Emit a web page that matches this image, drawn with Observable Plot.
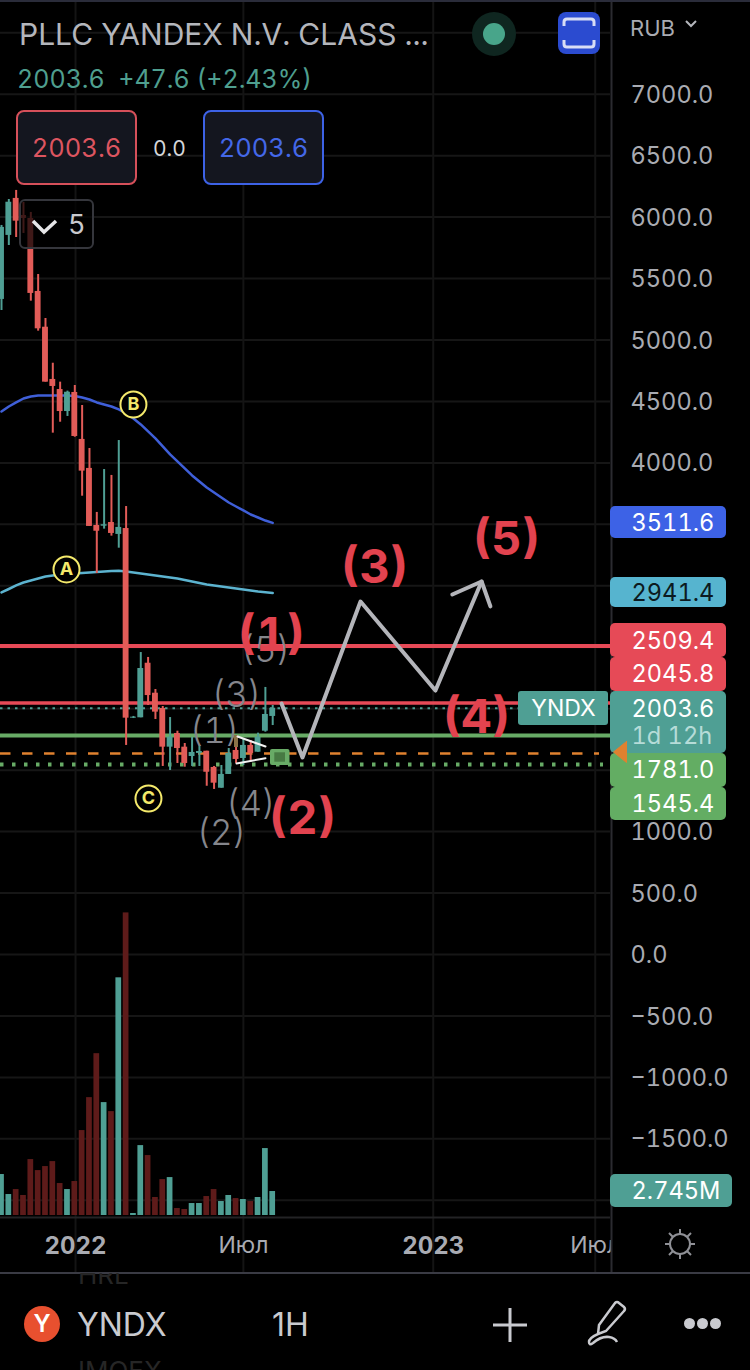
<!DOCTYPE html>
<html><head><meta charset="utf-8">
<script src="https://cdn.jsdelivr.net/npm/d3@7"></script>
<script src="https://cdn.jsdelivr.net/npm/@observablehq/plot@0.6"></script>
<style>
html,body{margin:0;padding:0;background:#000;}
#page{position:relative;width:750px;height:1370px;overflow:hidden;background:#000;font-family:Inter,"Noto Sans",sans-serif;font-variant-numeric:tabular-nums;}
#page svg.plot{display:block;position:absolute;left:0;top:0;font-variant-numeric:tabular-nums;}
.o{position:absolute;white-space:nowrap;line-height:1;}
.btn{position:absolute;box-sizing:border-box;border-radius:8px;background:#14161f;border:2px solid;display:flex;align-items:center;justify-content:center;font-size:25.5px;}
</style></head><body><div id="page"></div>
<script>
// ---- data ----
const opens  = [5330,5851,6152,6013,5989,5395,5104,4679,4597,4418,4573,4191,3955,3491,3485,3515,3418,3466,1923,1926,2370,2126,2002,1687,1798,1687,1611,1636,1654,1522,1353,1465,1660,1595,1701,1646,1817,1937];
const highs  = [5932,6143,6217,6119,6038,5533,5175,4811,4657,4584,4630,4467,4117,3597,3946,3898,4182,3645,1937,2457,2417,2156,2018,1928,1817,1717,1766,1701,1654,1530,1538,1676,1782,1749,1741,1801,2173,2026];
const lows   = [5240,5769,5834,5867,5316,5072,4657,4242,4331,4378,4209,3729,3483,3100,3461,3404,3306,1701,1920,1926,2026,1912,1530,1497,1554,1524,1530,1530,1369,1343,1353,1465,1554,1538,1565,1646,1809,1863];
const closes = [5916,6121,5967,5989,5379,5091,4657,4622,4418,4575,4215,3933,3483,3444,3497,3426,3475,1923,1931,2327,2107,1972,1687,1768,1676,1554,1644,1652,1483,1394,1465,1636,1587,1701,1636,1768,1953,2003.6];
const volumes = [4.69,2.40,2.97,2.29,6.40,5.14,5.60,6.17,3.66,2.97,3.89,9.72,13.49,18.52,12.92,11.89,27.2,34.63,0.23,8.0,6.86,2.06,4.11,4.34,0.80,0.69,1.37,1.37,2.17,2.97,1.60,2.29,1.94,1.83,1.60,2.06,7.66,2.745];
const maSlow = [4418,4459,4492,4524,4540,4549,4549,4549,4549,4549,4545,4532,4516,4492,4475,4459,4435,4402,4361,4313,4256,4199,4134,4069,4012,3955,3898,3849,3800,3759,3719,3678,3645,3613,3580,3556,3531,3511.6];
const maLong = [2946,2974,3003,3027,3043,3059,3076,3084,3092,3096,3100,3104,3108,3112,3116,3121,3122,3116,3108,3100,3092,3084,3076,3068,3059,3047,3035,3023,3011,3003,2994,2986,2978,2970,2962,2954,2948,2941.4];
const priceTicks = [7000,6500,6000,5500,5000,4500,4000,1000,500,0,-500,-1000,-1500];
const gridPrices = [7500,7000,6500,6000,5500,5000,4500,4000,3500,3000,2500,2000,1500,1000,500,0,-500,-1000,-1500,-2000];
const monthBars = [33,81];
const monthNames = ["Июл","Июл"];
const yearBars = [10.1,58.9];
const yearNames = ["2022","2023"];
const resistance = [2509.4,2045.8];
const support = 1781.0;
const supportDotted = 1545.4;
const orangeLevel = 1636;
const lastPrice = 2003.6;
const pathBars = [38.2,41.06,48.98,59.2,65.5];
const pathPrices = [2042,1603,2872,2148,3035];
const headBars = [61.5,65.5,66.7];
const headPrices = [2929,3035,2832];
const redWaves = ["(1)","(2)","(3)","(4)","(5)"];
const redBars = [36.8,41.06,50.9,64.8,68.9];
const redPrices = [2612,1123,3165,1937,3393];
const grayWaves = ["(5)","(3)","(1)","(4)","(2)"];
const grayBars = [36,32.06,29.06,34,30];
const grayPrices = [2474,2107,1815,1221,985];
const abc = ["A","B","C"];
const abcBars = [8.87,18,20.05];
const abcPrices = [3133,4475,1269];

// ---- chart geometry ----
const xAt = p => (p - 1) / 7.33;
const yAt = p => (954 - p) / 0.1229;
const volBase = yAt(1215), volUnit = 71.1;
const bars = opens.map((o,i)=>({i,open:o,high:highs[i],low:lows[i],close:closes[i],vol:volumes[i],slow:maSlow[i],long:maLong[i]}));
const ups = bars.filter(d=>d.close>=d.open), downs = bars.filter(d=>d.close<d.open);
const UP="#4f9f94", DOWN="#e25c58", VUP="#4f9f94", VDOWN="#5e1b1a";
const RED="#e64a57", GREEN="#68ab66", TEXT="#a9abb2";
const fmt = d3.format(".1f");
const zip = (n,b,p)=>n.map((t,i)=>({t,b:b[i],p:p[i]}));

const candles = (rows,color)=>[
  Plot.ruleX(rows,{x:"i",y1:"low",y2:"high",stroke:color,strokeWidth:2}),
  Plot.rect(rows,{x1:d=>d.i-0.4,x2:d=>d.i+0.4,y1:"open",y2:"close",fill:color})
];
const volume = (rows,color)=>Plot.rect(rows,{x1:d=>d.i-0.39,x2:d=>d.i+0.39,y1:volBase,y2:d=>volBase+d.vol*volUnit,fill:color});
const level = (v,color,w,extra={})=>Plot.ruleY([v],{x1:xAt(0),x2:xAt(extra.to??610),stroke:color,strokeWidth:w,strokeDasharray:extra.dash});
const tag = (label,top,bottom,fill,color,right=726,rx=5,textY)=>[
   Plot.rect([label],{x1:xAt(610),x2:xAt(right),y1:yAt(top),y2:yAt(bottom),fill,rx}),
   Plot.text([label],{x:xAt(631),y:yAt(textY??(top+bottom)/2),text:d=>d,fill:color,fontSize:23.6,textAnchor:"start",lineAnchor:"middle"})
];

const chart = Plot.plot({
  width:750,height:1370,
  marginTop:0,marginLeft:0,marginRight:140,marginBottom:98,
  x:{type:"linear",domain:[xAt(0),xAt(610)],axis:null},
  y:{type:"linear",domain:[yAt(1272),yAt(0)],axis:null},
  style:{background:"#000",fontFamily:"Inter, 'Noto Sans', sans-serif",overflow:"hidden"},
  marks:[
    Plot.ruleY(gridPrices,{stroke:"#161616",strokeWidth:2}),
    Plot.ruleX(monthBars.concat(yearBars),{stroke:"#141414",strokeWidth:2}),
    Plot.ruleY([yAt(1217)],{stroke:"#232325",strokeWidth:2}),
    volume(ups,VUP),volume(downs,VDOWN),
    Plot.line(bars,{x:"i",y:"long",stroke:"#5cb3cf",strokeWidth:2.5}),
    Plot.line(bars,{x:"i",y:"slow",stroke:"#3f5fd8",strokeWidth:2.5}),
    level(resistance[0],RED,4),
    level(resistance[1],RED,3.5),
    level(lastPrice,"#4f9f94",2,{dash:"2.5 5",to:520}),
    level(support,GREEN,4),
    level(orangeLevel,"#e0812f",2.5,{dash:"10.5 11.5",to:599}),
    level(supportDotted,GREEN,4,{dash:"3.5 8.5",to:603}),
    ...candles(downs,DOWN),...candles(ups,UP),
    Plot.rect([0],{x1:xAt(234),x2:xAt(238),y1:yAt(735),y2:yAt(747),fill:"#8a7347"}),
    Plot.line([[xAt(237),yAt(736)],[xAt(265),yAt(746)]],{stroke:"#f2f2f2",strokeWidth:2}),
    Plot.line([[xAt(236),yAt(763)],[xAt(265),yAt(757.7)]],{stroke:"#f2f2f2",strokeWidth:2}),
    Plot.rect([0],{x1:xAt(270),x2:xAt(289.5),y1:yAt(749),y2:yAt(765),fill:"#68ab66",rx:2}),
    Plot.rect([0],{x1:xAt(274.3),x2:xAt(285),y1:yAt(752.3),y2:yAt(761.7),fill:"#477a43"}),
    Plot.line(pathBars.map((b,i)=>[b,pathPrices[i]]),{stroke:"#b4b5ba",strokeWidth:4}),
    Plot.line(headBars.map((b,i)=>[b,headPrices[i]]),{stroke:"#b4b5ba",strokeWidth:4}),
    Plot.text(zip(grayWaves,grayBars,grayPrices),{x:"b",y:"p",text:"t",fill:"#85868c",fontSize:35,fontWeight:300,lineAnchor:"middle"}),
    Plot.text(zip(redWaves,redBars,redPrices),{x:"b",y:"p",text:"t",dy:2,fill:"#e2434f",fontSize:47,fontWeight:700,lineAnchor:"middle"}),
    Plot.dot(zip(abc,abcBars,abcPrices),{x:"b",y:"p",r:13,stroke:"#f4e96b",strokeWidth:2,fill:"#000"}),
    Plot.text(zip(abc,abcBars,abcPrices),{x:"b",y:"p",text:"t",fill:"#f4e96b",fontSize:18,fontWeight:700,lineAnchor:"middle"}),
    // x axis
    Plot.axisX({ticks:monthBars,tickSize:0,tickPadding:-36,tickFormat:(d,i)=>monthNames[i],fill:TEXT,fontSize:23,label:null,anchor:"bottom"}),
    Plot.axisX({ticks:yearBars,tickSize:0,tickPadding:-36,tickFormat:(d,i)=>yearNames[i],fill:TEXT,fontSize:24,fontWeight:700,label:null,anchor:"bottom"}),
    // right-hand price panel
    Plot.rect([0],{x1:xAt(611),x2:xAt(750),y1:yAt(0),y2:yAt(1272),fill:"#000"}),
    Plot.ruleX([xAt(611)],{stroke:"#2b2b30",strokeWidth:2}),
    Plot.axisY({ticks:priceTicks,anchor:"right",tickSize:0,tickPadding:20,dy:1,tickFormat:fmt,fill:TEXT,fontSize:23.6,label:null}),
    ...tag("3511.6",506,538,"#3d62e6","#fff",726,5,522.5),
    ...tag("2941.4",577,607,"#56b4cf","#0c1a20",726,5,592.5),
    ...tag("2509.4",623,657,"#e64a57","#fff",726,5,640.5),
    ...tag("2045.8",657,691,"#e64a57","#fff",726,5,674),
    ...tag("2003.6",691,753,"#4f9f94","#fff",726,5,708.5),
    Plot.text(["1d 12h"],{x:xAt(631),y:yAt(736),text:d=>d,fill:"#b6dcd8",fontSize:23.6,textAnchor:"start",lineAnchor:"middle"}),
    ...tag("1781.0",753,787,"#63ad63","#fff",726,5,770),
    ...tag("1545.4",787,820,"#63ad63","#fff",726,5,804),
    Plot.rect(["YNDX"],{x1:xAt(518),x2:xAt(608),y1:yAt(691),y2:yAt(725),fill:"#4f9f94",rx:3}),
    Plot.text(["YNDX"],{x:xAt(563),y:yAt(708.5),text:d=>d,fill:"#fff",fontSize:23,lineAnchor:"middle"}),
    Plot.line([[xAt(626),yAt(741)],[xAt(613),yAt(751.5)],[xAt(626),yAt(762)],[xAt(626),yAt(741)]],{fill:"#e0812f",stroke:"#e0812f",strokeWidth:1}),
    ...tag("2.745M",1174,1207,"#4f9f94","#fff",732,5,1191),
  ]
});
const page=document.getElementById("page");
page.appendChild(chart);

const add=html=>page.insertAdjacentHTML("beforeend",html);
add(`
<div class="o" style="left:0;top:0;width:750px;height:2px;background:#2a2c3a"></div>
<div class="o" style="left:0;top:1272px;width:750px;height:2px;background:#3a3b44"></div>
<div class="o" style="left:0;top:1274px;width:750px;height:96px;background:#000"></div>
<div class="o" style="left:19px;top:19px;font-size:30px;color:#b4b6bc">PLLC YANDEX N.V. CLASS ...</div>
<div class="o" style="left:17px;top:67px;font-size:25px;color:#4f9f8f">2003.6&nbsp; +47.6 (+2.43%)</div>
<div class="o" style="left:472px;top:12px;width:44px;height:44px;border-radius:50%;background:#0f2620"></div>
<div class="o" style="left:483px;top:23px;width:22px;height:22px;border-radius:50%;background:#48a58a"></div>
<div class="o" style="left:558px;top:12px;width:42px;height:42px;border-radius:8px;background:#2b4bd0"></div>
<svg class="o" style="left:558px;top:12px" width="42" height="42" fill="none" stroke="#d8ddf5" stroke-width="3"><path d="M6 14V10q0-3 3-3H33q3 0 3 3v4M6 28v4q0 3 3 3H33q3 0 3-3v-4"/></svg>
<div class="btn" style="left:16px;top:110px;width:121px;height:75px;border-color:#d6505a;color:#dd5560">2003.6</div>
<div class="o" style="left:153px;top:138px;font-size:21px;color:#d4d5d9">0.0</div>
<div class="btn" style="left:203px;top:110px;width:121px;height:75px;border-color:#3d62e6;color:#4468e8">2003.6</div>
<div class="o" style="left:19px;top:199px;width:75px;height:50px;box-sizing:border-box;border:2px solid #35363c;border-radius:6px;background:rgba(0,0,0,.72)"></div>
<svg class="o" style="left:31px;top:218px" width="27" height="17" fill="none" stroke="#e6e6e8" stroke-width="3.5"><path d="M2 3l11 11L25 3"/></svg>
<div class="o" style="left:68px;top:211px;font-size:27px;color:#c8c9cd">5</div>
<div class="o" style="left:630px;top:17px;font-size:22px;color:#a9abb2">RUB</div>
<svg class="o" style="left:685px;top:20px" width="12" height="9" fill="none" stroke="#b4b6bc" stroke-width="2"><path d="M1 1l5 5 5-5"/></svg>
<svg class="o" style="left:664px;top:1228px" width="32" height="32" fill="none" stroke="#8f9096" stroke-width="2"><circle cx="16" cy="16" r="10"/><path d="M16 1v5M16 26v5M1 16h5M26 16h5M5 5l4 4M23 23l4 4M27 5l-4 4M9 23l-4 4"/></svg>
<div class="o" style="left:78px;top:1262px;height:27px;font-size:26px;color:#262626;clip-path:inset(11px 0 0 0);line-height:1">HRL</div>
<div class="o" style="left:78px;top:1358px;font-size:26px;color:#262626">IMOEX</div>
<div class="o" style="left:24px;top:1306px;width:36px;height:36px;border-radius:50%;background:#e8502f;color:#fff;font-size:24px;font-weight:600;text-align:center;line-height:36px">Y</div>
<div class="o" style="left:77px;top:1309px;font-size:32px;color:#c9cacf">YNDX</div>
<div class="o" style="left:272px;top:1309px;font-size:32px;color:#c9cacf;font-variant-numeric:normal">1H</div>
<svg class="o" style="left:492px;top:1307px" width="36" height="36" stroke="#c9cacf" stroke-width="3"><path d="M18 1v34M1 18h34"/></svg>
<svg class="o" style="left:586px;top:1300px" width="44" height="48" fill="none" stroke="#c9cacf" stroke-width="2.5"><path d="M33 3l5 4q2 2 0 4L20 31l-8 3 1-9L29 3q2-2 4 0zM12 34q-9 4-9 8t4 1q8-7 16-6 6 1 8 5"/></svg>
<div class="o" style="left:684px;top:1318px;width:11px;height:11px;border-radius:50%;background:#c9cacf"></div>
<div class="o" style="left:697px;top:1318px;width:11px;height:11px;border-radius:50%;background:#c9cacf"></div>
<div class="o" style="left:710px;top:1318px;width:11px;height:11px;border-radius:50%;background:#c9cacf"></div>
`);
</script></body></html>
